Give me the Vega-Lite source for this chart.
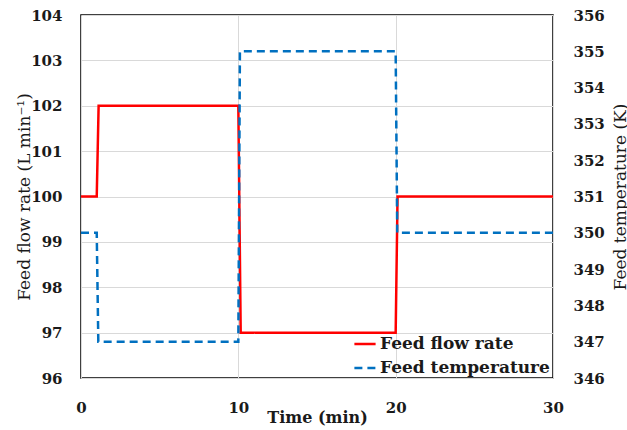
{
  "$schema": "https://vega.github.io/schema/vega-lite/v6.json",
  "width": 472,
  "height": 363,
  "autosize": {"type": "none"},
  "padding": {"left": 81, "top": 15, "right": 74, "bottom": 52},
  "background": "white",
  "config": {
    "view": {"stroke": "black", "strokeWidth": 1.5},
    "font": "DejaVu Serif",
    "axis": {
      "labelFont": "DejaVu Serif",
      "labelFontWeight": "bold",
      "labelFontSize": 15,
      "labelColor": "#1a1a1a",
      "titleFont": "DejaVu Serif",
      "titleFontWeight": "normal",
      "titleFontSize": 17,
      "titleColor": "#1a1a1a",
      "ticks": false,
      "domain": false,
      "gridColor": "#d9d9d9",
      "gridWidth": 1
    },
    "legend": {
      "labelFont": "DejaVu Serif",
      "labelFontWeight": "bold",
      "labelFontSize": 17,
      "labelColor": "#1a1a1a",
      "labelLimit": 400
    }
  },
  "datasets": {
    "flow": [
      {"t": 0, "v": 100, "series": "Feed flow rate"},
      {"t": 1, "v": 100, "series": "Feed flow rate"},
      {"t": 1.12, "v": 102, "series": "Feed flow rate"},
      {"t": 10, "v": 102, "series": "Feed flow rate"},
      {"t": 10.15, "v": 97, "series": "Feed flow rate"},
      {"t": 20, "v": 97, "series": "Feed flow rate"},
      {"t": 20.12, "v": 100, "series": "Feed flow rate"},
      {"t": 30, "v": 100, "series": "Feed flow rate"}
    ],
    "temp": [
      {"t": 0, "v": 350, "series": "Feed temperature"},
      {"t": 1, "v": 350, "series": "Feed temperature"},
      {"t": 1.1, "v": 347, "series": "Feed temperature"},
      {"t": 10, "v": 347, "series": "Feed temperature"},
      {"t": 10.1, "v": 355, "series": "Feed temperature"},
      {"t": 20, "v": 355, "series": "Feed temperature"},
      {"t": 20.1, "v": 350, "series": "Feed temperature"},
      {"t": 30, "v": 350, "series": "Feed temperature"}
    ]
  },
  "encoding": {
    "x": {
      "field": "t",
      "type": "quantitative",
      "scale": {"domain": [0, 30], "nice": false},
      "axis": {
        "values": [0, 10, 20, 30],
        "title": "Time (min)",
        "titleFontWeight": "bold",
        "titleFontSize": 16,
        "labelFlush": false,
        "labelPadding": 22,
        "titlePadding": -6,
        "grid": true
      }
    },
    "color": {
      "field": "series",
      "type": "nominal",
      "scale": {"domain": ["Feed flow rate", "Feed temperature"], "range": ["#ff0000", "#0070c0"]},
      "legend": {
        "title": null,
        "orient": "none",
        "legendX": 272,
        "legendY": 317,
        "symbolType": "stroke",
        "symbolSize": 450,
        "symbolStrokeWidth": 2.5,
        "rowPadding": 4,
        "labelOffset": 3,
        "labelLimit": 400
      }
    },
    "strokeDash": {
      "field": "series",
      "type": "nominal",
      "scale": {"domain": ["Feed flow rate", "Feed temperature"], "range": [[1, 0], [8, 5]]},
      "legend": {
        "title": null,
        "orient": "none",
        "legendX": 272,
        "legendY": 317,
        "symbolType": "stroke",
        "symbolSize": 450,
        "symbolStrokeWidth": 2.5,
        "rowPadding": 4,
        "labelOffset": 3,
        "labelLimit": 400
      }
    }
  },
  "layer": [
    {
      "data": {"name": "flow"},
      "mark": {"type": "line", "strokeWidth": 2.5},
      "encoding": {
        "y": {
          "field": "v",
          "type": "quantitative",
          "scale": {"domain": [96, 104], "nice": false, "zero": false},
          "axis": {
            "orient": "left",
            "values": [96, 97, 98, 99, 100, 101, 102, 103, 104],
            "title": "Feed flow rate (L min⁻¹)",
            "labelPadding": 19,
            "titlePadding": -3,
            "grid": true
          }
        }
      }
    },
    {
      "data": {"name": "temp"},
      "mark": {"type": "line", "strokeWidth": 2.5},
      "encoding": {
        "y": {
          "field": "v",
          "type": "quantitative",
          "scale": {"domain": [346, 356], "nice": false, "zero": false},
          "axis": {
            "orient": "right",
            "values": [346, 347, 348, 349, 350, 351, 352, 353, 354, 355, 356],
            "title": "Feed temperature (K)",
            "titleAngle": -90,
            "labelPadding": 20,
            "titlePadding": 25,
            "grid": false
          }
        }
      }
    }
  ],
  "resolve": {"scale": {"y": "independent"}}
}
